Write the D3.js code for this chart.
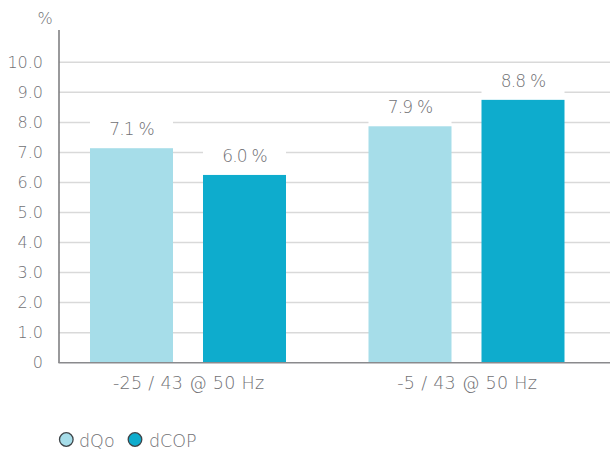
<!DOCTYPE html>
<html><head><meta charset="utf-8">
<script src="https://cdn.jsdelivr.net/npm/d3@7"></script>
<style>
html,body{margin:0;padding:0;background:#fff;}
text{font-family:"DejaVu Sans", "Open Sans", sans-serif;font-weight:200;fill:#717175;}
</style></head>
<body><svg id="c" width="610" height="453"></svg>
<script>
const categories = ["-25 / 43 @ 50 Hz", "-5 / 43 @ 50 Hz"];
const seriesNames = ["dQo", "dCOP"];
const dQo = [7.14, 7.87];
const dCOP = [6.25, 8.75];
const dQoLabels = ["7.1 %", "7.9 %"];
const dCOPLabels = ["6.0 %", "8.8 %"];
const yTicks = [0,1,2,3,4,5,6,7,8,9,10];
const colors = ["#a6dde9", "#0eaccd"];

const svg = d3.select("#c");
const y = d3.scaleLinear().domain([0,10]).range([362.7,62.3]);
const x0 = d3.scaleBand().domain(categories).range([49,606]).padding(0);
const x1 = d3.scaleBand().domain(seriesNames).range([41,237]).paddingInner(0.2655).paddingOuter(0);

// gridlines
svg.append("g").selectAll("line").data(yTicks.filter(d=>d>0)).join("line")
  .attr("x1",59).attr("x2",610).attr("y1",d=>y(d)).attr("y2",d=>y(d))
  .attr("stroke","#d9d9d9").attr("stroke-width",1.5);

// y tick labels
svg.append("g").selectAll("text").data(yTicks).join("text")
  .attr("x",43).attr("y",d=>y(d)).attr("dy","0.36em").attr("text-anchor","end")
  .attr("font-size",16).text(d=>d===0?"0":d.toFixed(1));

svg.append("text").attr("x",45).attr("y",24).attr("text-anchor","middle").attr("font-size",16).text("%");

const rows = categories.map((c,i)=>[
  {cat:c,s:"dQo",v:dQo[i],l:dQoLabels[i],col:colors[0]},
  {cat:c,s:"dCOP",v:dCOP[i],l:dCOPLabels[i],col:colors[1]}
]).flat();

const g = svg.append("g");
// label background boxes
g.selectAll("rect.bg").data(rows).join("rect").attr("class","bg")
  .attr("x",d=>x0(d.cat)+x1(d.s)).attr("width",x1.bandwidth())
  .attr("y",d=>y(d.v)-32).attr("height",32).attr("fill","#fff");
g.selectAll("rect.bar").data(rows).join("rect").attr("class","bar")
  .attr("x",d=>x0(d.cat)+x1(d.s)).attr("width",x1.bandwidth())
  .attr("y",d=>y(d.v)).attr("height",d=>y(0)-y(d.v)).attr("fill",d=>d.col);
g.selectAll("text.lbl").data(rows).join("text").attr("class","lbl")
  .attr("x",d=>x0(d.cat)+x1(d.s)+x1.bandwidth()/2).attr("y",d=>y(d.v)-13)
  .attr("text-anchor","middle").attr("font-size",17).attr("letter-spacing",-0.8).text(d=>d.l);

// axes lines
svg.append("line").attr("x1",59).attr("x2",59).attr("y1",30).attr("y2",363)
  .attr("stroke","#77777a").attr("stroke-width",1.5);
svg.append("line").attr("x1",58.5).attr("x2",610).attr("y1",y(0)).attr("y2",y(0))
  .attr("stroke","#8a8a8d").attr("stroke-width",1.5);

// category labels
svg.append("g").selectAll("text").data(categories).join("text")
  .attr("x",d=>x0(d)+x0.bandwidth()/2+0.5).attr("y",389).attr("text-anchor","middle")
  .attr("font-size",17.5).attr("letter-spacing",0.3).text(d=>d);

// legend
const leg = svg.append("g");
const lx = [66.3, 135];
const tx = [79, 149];
seriesNames.forEach((s,i)=>{
  leg.append("circle").attr("cx",lx[i]).attr("cy",439.5).attr("r",6.8)
    .attr("fill",colors[i]).attr("stroke","#3e4448").attr("stroke-width",1.3);
  leg.append("text").attr("x",tx[i]).attr("y",446.5).attr("font-size",17.5).text(s);
});
</script></body></html>
